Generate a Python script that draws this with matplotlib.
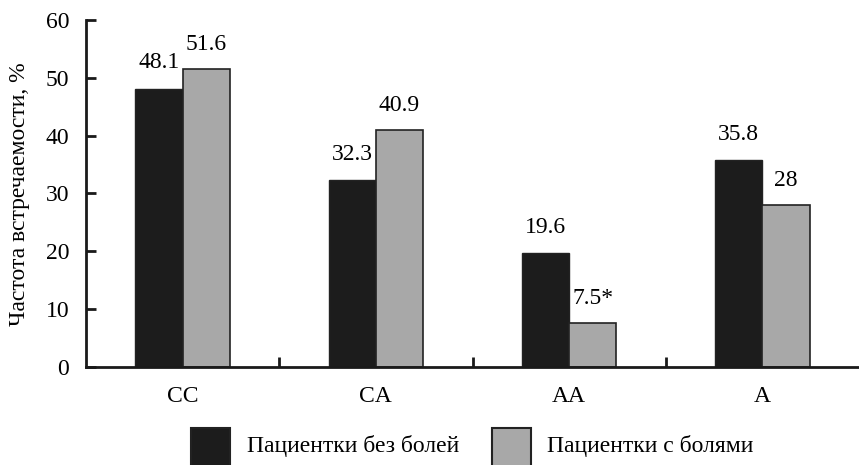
import matplotlib
matplotlib.use("Agg")
import matplotlib.pyplot as plt
from matplotlib.patches import Rectangle
import numpy as np

# Genotype frequencies
categories = ["CC", "CA", "AA", "A"]
no_pain = [48.1, 32.3, 19.6, 35.8]
with_pain = [51.6, 40.9, 7.5, 28]
with_pain_labels = ["51.6", "40.9", "7.5*", "28"]
no_pain_labels = ["48.1", "32.3", "19.6", "35.8"]
series_names = ["Пациентки без болей", "Пациентки с болями"]
y_ticks = [0, 10, 20, 30, 40, 50, 60]
y_label = "Частота встречаемости, %"

plt.rcParams["font.family"] = ["Liberation Serif", "DejaVu Serif"]
plt.rcParams["font.size"] = 17

fig = plt.figure(figsize=(8.59, 4.65), dpi=100)
ax = fig.add_axes([86 / 859, 1 - 366.7 / 465, 1 - 86 / 859, (366.7 - 20) / 465])

dark = "#1c1c1c"
light = "#a8a8a8"
edge = "#222222"
w = 0.245
x = np.arange(len(categories))

b1 = ax.bar(x - w / 2, no_pain, w, color=dark, edgecolor=edge, linewidth=1.0)
b2 = ax.bar(x + w / 2, with_pain, w, color=light, edgecolor=edge, linewidth=1.2)

for rect, lab in zip(b1, no_pain_labels):
    ax.annotate(lab, (rect.get_x() + rect.get_width() / 2, rect.get_height()),
                xytext=(0, 11), textcoords="offset points", ha="center", va="bottom")
for rect, lab in zip(b2, with_pain_labels):
    ax.annotate(lab, (rect.get_x() + rect.get_width() / 2, rect.get_height()),
                xytext=(0, 10), textcoords="offset points", ha="center", va="bottom")

ax.set_xlim(-0.5, len(categories) - 0.5)
ax.set_ylim(0, 60)
ax.set_yticks(y_ticks)
ax.set_xticks(x)
ax.set_xticklabels(categories)
ax.set_xticks(x[:-1] + 0.5, minor=True)

for s in ["top", "right"]:
    ax.spines[s].set_visible(False)
for s in ["left", "bottom"]:
    ax.spines[s].set_linewidth(2)
    ax.spines[s].set_color("#1a1a1a")

ax.tick_params(axis="y", direction="in", length=7.5, width=2, pad=12, color="#1a1a1a")
ax.tick_params(axis="x", which="major", length=0, pad=14)
ax.tick_params(axis="x", which="minor", direction="in", length=7.5, width=2, color="#1a1a1a")

H = 465.0
Wf = 859.0

# Vertical axis title
fig.text(20 / Wf, 1 - 194 / H, y_label, rotation=90, ha="center", va="center")

# Legend drawn below the axes
for (x0, x1), col, tx, name in [((191, 230), dark, 247, series_names[0]),
                                 ((492, 531), light, 547, series_names[1])]:
    fig.add_artist(Rectangle((x0 / Wf, 0 - 0.05), (x1 - x0) / Wf, (H - 428) / H + 0.05,
                             transform=fig.transFigure, facecolor=col,
                             edgecolor=edge, linewidth=1.5))
    fig.text(tx / Wf, 1 - 446 / H, name, ha="left", va="center")

fig.savefig("out.png", dpi=100)
